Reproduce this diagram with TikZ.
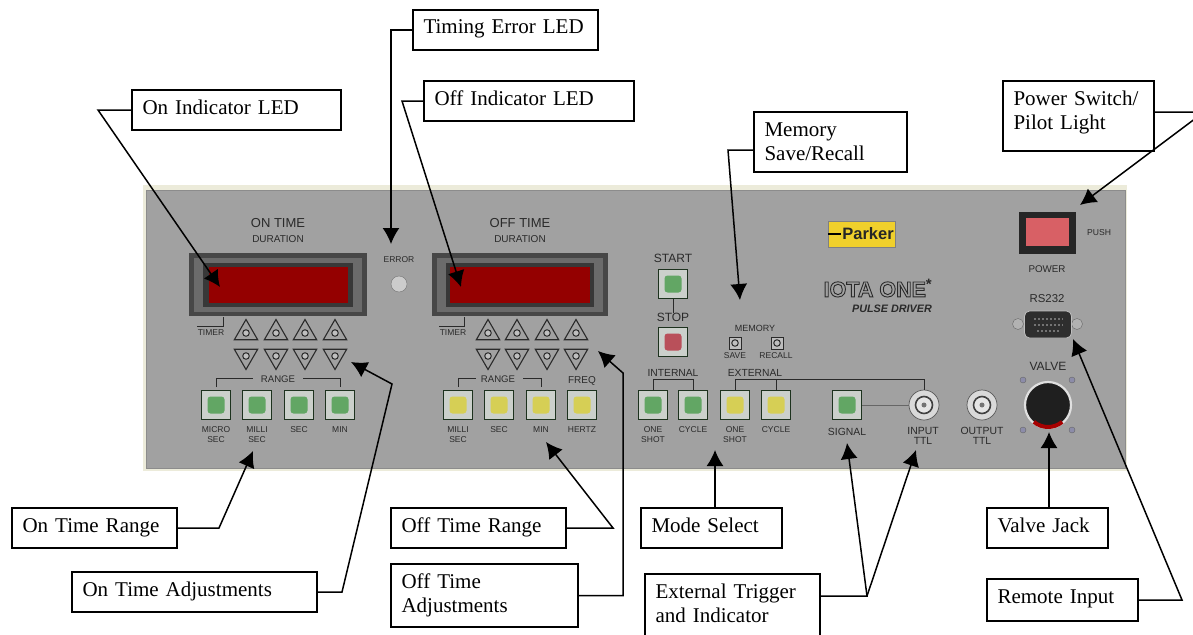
\documentclass[tikz,border=0pt]{standalone}
\usepackage{fontspec}
\setmainfont{Liberation Serif}
\setsansfont{Liberation Sans}
\usetikzlibrary{arrows.meta,shapes.geometric}
\definecolor{panelgrey}{HTML}{A1A1A1}
\definecolor{panelcream}{HTML}{ECEBDA}
\definecolor{inkgrey}{HTML}{2A2A2A}
\definecolor{lampgreen}{HTML}{62A664}
\definecolor{lampyellow}{HTML}{D6CF55}
\definecolor{lampred}{HTML}{B9505A}
\definecolor{logoyellow}{HTML}{F0D02C}
\newcommand{\outlinetext}[1]{\special{pdf:code 1 Tr 0.9 w}#1\special{pdf:code 0 Tr 1 w}}
\tikzset{
  calloutbox/.style={draw, line width=1.5pt, fill=white, anchor=north west, outer sep=0pt, inner ysep=0pt, inner xsep=10.5pt,
    align=left, text height=24pt, text depth=16pt, font=\fontsize{21}{24.5}\selectfont},
  lead/.style={line width=1.5pt, -{Latex[length=16pt,width=17pt]}},
  paneltext/.style={font=\sffamily\fontsize{#1}{10}\selectfont, text=inkgrey, inner sep=0pt, align=center},
  paneltext/.default=8.5,
  bracket/.style={line width=1pt, draw=inkgrey},
  dispring/.style={rectangle, fill=#1, inner sep=0pt},
  lamp/.style={rectangle, rounded corners=3pt, fill=#1, minimum size=17pt, inner sep=0pt},
  pushbtn/.style={rectangle, draw=black!70!lampgreen, line width=1.3pt, fill=black!8!lampgreen!10!white!85!black, minimum size=29pt, inner sep=0pt, label={[lamp=#1]center:}},
  memkey/.style={rectangle, draw=inkgrey, line width=1pt, fill=panelgrey!70!white, minimum size=12pt, inner sep=0pt, label={[keyhole]center:}},
  keyhole/.style={circle, draw=inkgrey, line width=1pt, fill=white!75!black, minimum size=6.5pt, inner sep=0pt},
  upkey/.style={regular polygon, regular polygon sides=3, draw=inkgrey, line width=1.1pt, minimum size=27pt, inner sep=0pt, label={[keyhole]center:}},
  downkey/.style={upkey, shape border rotate=180},
  bnc/.style={circle, draw=black!65, line width=0.7pt, fill=white!85!black, minimum size=30pt, inner sep=0pt, label={[bncinner]center:}, label={[bncpin]center:}},
  bncinner/.style={circle, draw=black!75, line width=1.6pt, fill=white!90!black, minimum size=17pt, inner sep=0pt},
  bncpin/.style={circle, fill=black!55, minimum size=5pt, inner sep=0pt},
  screwdot/.style={circle, draw=black!60, fill=blue!25!black!45, minimum size=6pt, inner sep=0pt},
}
\begin{document}
\begin{tikzpicture}[x=1pt,y=-1pt]
\useasboundingbox (0,0) rectangle (1193,634);
% front panel
\fill[panelcream] (143,185) rectangle (1127,471);
\draw[fill=panelgrey, draw=black!45, line width=0.8pt] (146,190) rectangle (1125,468);
% on time display
\node[paneltext=13] (ontime) at (278,223){ON TIME};
\node[paneltext=10] (ondur) at (278,239){DURATION};
\node[dispring=black!72, minimum width=178pt, minimum height=63pt] (ondisp) at (278,284.5){};
\node[dispring=black!58, minimum width=168pt, minimum height=54pt] (ondispb) at (278,284.5){};
\node[dispring=black!78, minimum width=150pt, minimum height=44pt] (ondispc) at (278,284.5){};
\node[dispring=red!58!black, minimum width=139pt, minimum height=36pt] (onred) at (278,284.5){};
\node[paneltext=8.5] (errtxt) at (399,260){ERROR};
\node[circle, draw=black!55, fill=white!80!black, minimum size=16pt, inner sep=0pt] (errled) at (399,284){};
% off time display
\node[paneltext=13] (offtime) at (520,223){OFF TIME};
\node[paneltext=10] (offdur) at (520,239){DURATION};
\node[dispring=black!72, minimum width=176pt, minimum height=63pt] (offdisp) at (520,284.5){};
\node[dispring=black!58, minimum width=166pt, minimum height=54pt] (offdispb) at (520,284.5){};
\node[dispring=black!78, minimum width=148pt, minimum height=44pt] (offdispc) at (520,284.5){};
\node[dispring=red!58!black, minimum width=140pt, minimum height=36pt] (offred) at (520,284.5){};
% timer marks
\node[paneltext=8.5] (ontimer) at (211,333){TIMER};
\draw[bracket] (197,326) -- (223,326) -- (223,317);
\node[paneltext=8.5] (offtimer) at (453,333){TIMER};
\draw[bracket] (439,326) -- (464,326) -- (464,317);
% up and down keys
\node[upkey] (onup1) at (246,333){};
\node[upkey] (onup2) at (276,333){};
\node[upkey] (onup3) at (305,333){};
\node[upkey] (onup4) at (335,333){};
\node[downkey] (ondn1) at (246,356){};
\node[downkey] (ondn2) at (276,356){};
\node[downkey] (ondn3) at (305,356){};
\node[downkey] (ondn4) at (335,356){};
\node[upkey] (offup1) at (488,333){};
\node[upkey] (offup2) at (517,333){};
\node[upkey] (offup3) at (547,333){};
\node[upkey] (offup4) at (576,333){};
\node[downkey] (offdn1) at (488,356){};
\node[downkey] (offdn2) at (517,356){};
\node[downkey] (offdn3) at (547,356){};
\node[downkey] (offdn4) at (576,356){};
% on range
\node[paneltext=9.6] (onrange) at (278,379){RANGE};
\draw[bracket] (216,387) -- (216,378) -- (253,378);
\draw[bracket] (303,378) -- (340,378) -- (340,387);
\node[pushbtn=lampgreen] (onb1) at (216,405){};
\node[pushbtn=lampgreen] (onb2) at (257,405){};
\node[pushbtn=lampgreen] (onb3) at (299,405){};
\node[pushbtn=lampgreen] (onb4) at (340,405){};
\node[paneltext] (onl1) at (216,435){MICRO\\SEC};
\node[paneltext] (onl2) at (257,435){MILLI\\SEC};
\node[paneltext] (onl3) at (299,430){SEC};
\node[paneltext] (onl4) at (340,430){MIN};
% off range
\node[paneltext=9.6] (offrange) at (498,379){RANGE};
\draw[bracket] (458,387) -- (458,378) -- (476,378);
\draw[bracket] (523,378) -- (541,378) -- (541,387);
\node[paneltext=10] (freqtxt) at (582,381){FREQ};
\node[pushbtn=lampyellow] (offb1) at (458,405){};
\node[pushbtn=lampyellow] (offb2) at (499,405){};
\node[pushbtn=lampyellow] (offb3) at (541,405){};
\node[pushbtn=lampyellow] (offb4) at (582,405){};
\node[paneltext] (offl1) at (458,435){MILLI\\SEC};
\node[paneltext] (offl2) at (499,430){SEC};
\node[paneltext] (offl3) at (541,430){MIN};
\node[paneltext] (offl4) at (582,430){HERTZ};
% start and stop
\node[paneltext=12] (starttxt) at (673,258){START};
\node[pushbtn=lampgreen] (startb) at (673,284){};
\node[paneltext=12] (stoptxt) at (673,317){STOP};
\node[pushbtn=lampred] (stopb) at (673,342){};
\draw[bracket] (startb) -- (stoptxt);
% memory
\node[paneltext=9] (memtxt) at (755,328){MEMORY};
\node[memkey] (saveb) at (735,343){};
\node[memkey] (recallb) at (777,343){};
\node[paneltext] (savetxt) at (735,356){SAVE};
\node[paneltext] (recalltxt) at (776,356){RECALL};
% mode buttons
\node[paneltext=10.3] (inttxt) at (673,373){INTERNAL};
\node[paneltext=10.3] (exttxt) at (755,373){EXTERNAL};
\node[pushbtn=lampgreen] (modeb1) at (653,405){};
\node[pushbtn=lampgreen] (modeb2) at (693,405){};
\node[pushbtn=lampyellow] (modeb3) at (735,405){};
\node[pushbtn=lampyellow] (modeb4) at (776,405){};
\node[paneltext] (model1) at (653,435){ONE\\SHOT};
\node[paneltext] (model2) at (693,430){CYCLE};
\node[paneltext] (model3) at (735,435){ONE\\SHOT};
\node[paneltext] (model4) at (776,430){CYCLE};
\draw[bracket] (modeb1.north) -- (653,379) -- (693,379) -- (modeb2.north);
% signal and ttl
\node[pushbtn=lampgreen] (signalb) at (847,405){};
\node[paneltext=10.4] (signaltxt) at (847,432){SIGNAL};
\node[bnc] (inbnc) at (924,405){};
\node[bnc] (outbnc) at (982,405){};
\node[paneltext=10.4] (intxt) at (923,436){INPUT\\TTL};
\node[paneltext=10.4] (outtxt) at (982,436){OUTPUT\\TTL};
\draw[bracket] (modeb3.north) -- (735,379) -- (924,379) -- (inbnc.north);
\draw[bracket] (776,379) -- (modeb4.north);
\draw[line width=0.8pt, draw=black!60] (signalb) -- (inbnc);
% valve jack
\node[paneltext=12] (valvetxt) at (1048,366){VALVE};
\node[screwdot] (vs1) at (1023,380){};
\node[screwdot] (vs2) at (1072,380){};
\node[screwdot] (vs3) at (1023,430){};
\node[screwdot] (vs4) at (1072,430){};
\node[circle, draw=white!88!black, line width=2.2pt, fill=black!88, minimum size=46pt, inner sep=0pt] (valvejack) at (1048,405){};
\draw[line width=4pt, draw=red!65!black] ([shift={(130:22)}]valvejack.center) arc[start angle=230, end angle=310, radius=22pt];
% rs232
\node[paneltext=11.4] (rstxt) at (1047,299){RS232};
\node[screwdot, fill=white!70!black, minimum size=11pt] (rsleft) at (1018,324){};
\node[screwdot, fill=white!70!black, minimum size=11pt] (rsright) at (1077,324){};
\node[rectangle, rounded corners=5pt, draw=white!75!black, line width=0.8pt, fill=black!82, minimum width=47pt, minimum height=27pt, inner sep=0pt] (rsport) at (1048,324.5){};
\draw[dotted, line width=2pt, draw=black!55] (1034,319) -- (1063,319);
\draw[dotted, line width=2pt, draw=black!55] (1034,325) -- (1063,325);
\draw[dotted, line width=2pt, draw=black!55] (1037,331) -- (1060,331);
% power switch
\node[rectangle, fill=black!85, minimum width=57pt, minimum height=42pt, inner sep=0pt] (powersw) at (1047.5,233){};
\node[rectangle, fill=lampred!70!red!80!white, minimum width=43pt, minimum height=28pt, inner sep=0pt] (powerlamp) at (1047.5,232){};
\node[paneltext=8.6] (pushtxt) at (1099,233){PUSH};
\node[paneltext=9.8] (powertxt) at (1047,269){POWER};
% brand
\node[rectangle, draw=black!50, fill=logoyellow, minimum width=67pt, minimum height=26pt, inner sep=0pt, font=\sffamily\bfseries\fontsize{16.5}{17}\selectfont, text=black!85, align=right] (logo) at (861.5,234){\hspace*{13pt}Parker};
\draw[line width=1.6pt] (logo.west) -- +(13,0);
\node[paneltext=21, font=\sffamily\bfseries\fontsize{21.5}{22}\selectfont] (iotatxt) at (878,288){\outlinetext{IOTA ONE}\textsuperscript{*}};
\node[paneltext=10.8, font=\sffamily\bfseries\itshape\fontsize{10.8}{11}\selectfont] (pulsetxt) at (892,309){PULSE DRIVER};
% callout boxes
\node[calloutbox, text width=188pt] (onledbox) at (132,90){On Indicator LED};
\node[calloutbox, text width=164pt] (timingbox) at (413,10){Timing Error LED};
\node[calloutbox, text width=189pt] (offledbox) at (424,81){Off Indicator LED};
\node[calloutbox, text width=132pt, text depth=36pt] (membox) at (754,112){Memory\\Save/Recall};
\node[calloutbox, text width=130pt, text depth=46pt] (powerbox) at (1003,81){Power Switch/\\Pilot Light};
\node[calloutbox, text width=144pt] (onrangebox) at (12,508){On Time Range};
\node[calloutbox, text width=224pt] (onadjbox) at (72,572){On Time Adjustments};
\node[calloutbox, text width=154pt] (offrangebox) at (391,508){Off Time Range};
\node[calloutbox, text width=166pt, text depth=39pt] (offadjbox) at (391,564){Off Time\\Adjustments};
\node[calloutbox, text width=120pt] (modebox) at (641,508){Mode Select};
\node[calloutbox, text width=154pt, text depth=44pt] (extbox) at (645,574){External Trigger\\and Indicator};
\node[calloutbox, text width=100pt] (valvebox) at (987,508){Valve Jack};
\node[calloutbox, text width=130pt, text depth=18pt] (remotebox) at (987,579){Remote Input};
% leader ends
\coordinate (onledknee) at (98,110);
\coordinate (onledtip) at (220,287);
\coordinate (timingknee) at (391,30);
\coordinate (timingtip) at (391,244);
\coordinate (offledknee) at (402,101);
\coordinate (offledtip) at (461,287);
\coordinate (memknee) at (728,150);
\coordinate (memtip) at (740,300);
\coordinate (powerknee) at (1204,112);
\coordinate (powertip) at (1080,205);
\coordinate (onrangeknee) at (219,528);
\coordinate (onrangetip) at (253,451);
\coordinate (onadjknee) at (342,592);
\coordinate (onadjbend) at (392,384);
\coordinate (onadjtip) at (351,362);
\coordinate (offrangeknee) at (613,528);
\coordinate (offrangetip) at (546,442);
\coordinate (offadjknee) at (623,595.5);
\coordinate (offadjbend) at (623,373);
\coordinate (offadjtip) at (598,351);
\coordinate (modetip) at (715,450);
\coordinate (extknee) at (867,596);
\coordinate (signaltip) at (847,443);
\coordinate (inputtip) at (916,450);
\coordinate (valvetip) at (1049,432);
\coordinate (remoteknee) at (1182,600);
\coordinate (remotetip) at (1073,339);
% leaders
\draw[lead] (onledbox.west) -- (onledknee) -- (onledtip);
\draw[lead] (timingbox.west) -- (timingknee) -- (timingtip);
\draw[lead] (offledbox.west) -- (offledknee) -- (offledtip);
\draw[lead] ([yshift=-8pt]membox.west) -- (memknee) -- (memtip);
\draw[lead] ([yshift=4pt]powerbox.east) -- (powerknee) -- (powertip);
\draw[lead] (onrangebox.east) -- (onrangeknee) -- (onrangetip);
\draw[lead] (onadjbox.east) -- (onadjknee) -- (onadjbend) -- (onadjtip);
\draw[lead] (offrangebox.east) -- (offrangeknee) -- (offrangetip);
\draw[lead] (offadjbox.east) -- (offadjknee) -- (offadjbend) -- (offadjtip);
\draw[lead] (modebox.north -| modetip) -- (modetip);
\draw[lead] (extbox.east |- extknee) -- (extknee) -- (signaltip);
\draw[lead] (extknee) -- (inputtip);
\draw[lead] (valvebox.north -| valvetip) -- (valvetip);
\draw[lead] (remotebox.east) -- (remoteknee) -- (remotetip);
\end{tikzpicture}
\end{document}
